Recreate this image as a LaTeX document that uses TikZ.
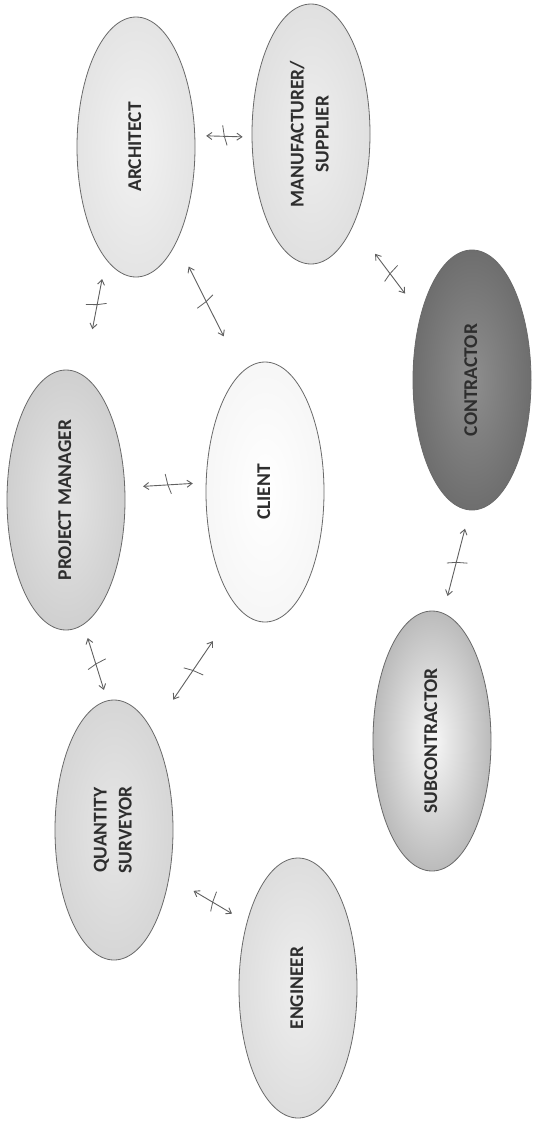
\documentclass[tikz,border=0pt]{standalone}
\usepackage{fontspec}
\newfontfamily\lblfont{Carlito}
\usetikzlibrary{shapes.geometric,arrows.meta,decorations.markings}
\definecolor{edgecol}{HTML}{6A6A6A}
\definecolor{txtcol}{HTML}{2E2E2E}
\definecolor{arrcol}{HTML}{606060}
\definecolor{archin}{HTML}{F2F2F2}\definecolor{archout}{HTML}{D6D6D6}
\definecolor{manin}{HTML}{EEEEEE}\definecolor{manout}{HTML}{D2D2D2}
\definecolor{pmin}{HTML}{E4E4E4}\definecolor{pmout}{HTML}{BBBBBB}
\definecolor{clin}{HTML}{FFFFFF}\definecolor{clout}{HTML}{EEEEEE}
\definecolor{conin}{HTML}{8E8E8E}\definecolor{conout}{HTML}{4E4E4E}
\definecolor{subin}{HTML}{F8F8F8}\definecolor{subout}{HTML}{7E7E7E}
\definecolor{qsin}{HTML}{E6E6E6}\definecolor{qsout}{HTML}{C6C6C6}
\definecolor{engin}{HTML}{EEEEEE}\definecolor{engout}{HTML}{CDCDCD}
\pgfdeclareradialshading{archsh}{\pgfpoint{0bp}{0bp}}{color(0bp)=(archin); color(50bp)=(archout)}
\pgfdeclareradialshading{mansh}{\pgfpoint{0bp}{0bp}}{color(0bp)=(manin); color(50bp)=(manout)}
\pgfdeclareradialshading{pmsh}{\pgfpoint{0bp}{0bp}}{color(0bp)=(pmin); color(50bp)=(pmout)}
\pgfdeclareradialshading{clsh}{\pgfpoint{0bp}{0bp}}{color(0bp)=(clin); color(50bp)=(clout)}
\pgfdeclareradialshading{consh}{\pgfpoint{0bp}{0bp}}{color(0bp)=(conin); color(50bp)=(conout)}
\pgfdeclareradialshading{subsh}{\pgfpoint{0bp}{0bp}}{color(0bp)=(subin); color(50bp)=(subout)}
\pgfdeclareradialshading{qssh}{\pgfpoint{0bp}{0bp}}{color(0bp)=(qsin); color(50bp)=(qsout)}
\pgfdeclareradialshading{engsh}{\pgfpoint{0bp}{0bp}}{color(0bp)=(engin); color(50bp)=(engout)}
\newcommand{\vtext}[1]{\rotatebox{90}{\begin{tabular}{@{}c@{}}#1\end{tabular}}}
\tikzset{
  party/.style={ellipse, draw=edgecol, line width=0.8pt, minimum width=118pt,
    minimum height=260pt, inner sep=0pt, text=txtcol,
    font=\lblfont\bfseries\fontsize{19.5}{25}\selectfont},
  link/.style={{Straight Barb[length=5pt,width=7pt]}-{Straight Barb[length=5pt,width=7pt]},
    draw=arrcol, line width=0.9pt},
  crossmark/.style={postaction={decorate}, decoration={markings,
    mark=at position #1 with {\draw[-, shorten <=0pt, shorten >=0pt, arrcol, line width=0.8pt]
      (3pt,-9pt) -- (0pt,0pt) -- (-2pt,11pt);}}}
}
\begin{document}
\begin{tikzpicture}[x=1pt,y=-1pt]
\path[use as bounding box, fill=white] (0,0) rectangle (533,1125);
\node[party, shading=archsh] (arch) at (136,147) {\vtext{ARCHITECT}};
\node[party, shading=mansh] (man) at (311,134) {\vtext{MANUFACTURER/\\SUPPLIER}};
\node[party, shading=pmsh] (pm) at (66,500) {\vtext{PROJECT MANAGER}};
\node[party, shading=clsh] (client) at (265,492) {\vtext{CLIENT}};
\node[party, shading=consh] (con) at (472,380) {\vtext{CONTRACTOR}};
\node[party, shading=qssh] (qs) at (114,830) {\vtext{QUANTITY\\SURVEYOR}};
\node[party, shading=subsh] (sub) at (432,741) {\vtext{SUBCONTRACTOR}};
\node[party, shading=engsh] (eng) at (298,988) {\vtext{ENGINEER}};

\draw[link, crossmark=0.517, shorten <=11pt, shorten >=9pt] (arch.11.7) -- (man.183);
\draw[link, crossmark=0.61, shorten <=47pt, shorten >=20pt] (pm.82) -- (arch.-105);
\draw[link, crossmark=0.544, shorten <=40pt, shorten >=27pt] (client.101) -- (arch.-67);
\draw[link, crossmark=0.544, shorten <=36pt, shorten >=26pt] (man.-65) -- (con.128);
\draw[link, crossmark=0.53, shorten <=18pt, shorten >=13pt] (pm.12.4) -- (client.171.5);
\draw[link, crossmark=0.52, shorten <=14pt, shorten >=11pt] (pm.-82) -- (qs.93.5);
\draw[link, crossmark=0.517, shorten <=42pt, shorten >=37pt] (client.-104) -- (qs.69);
\draw[link, crossmark=0.507, shorten <=19pt, shorten >=17.5pt] (con.-91) -- (sub.85);
\draw[link, crossmark=0.56, shorten <=28pt, shorten >=17pt] (qs.-40) -- (eng.128);
\end{tikzpicture}
\end{document}
